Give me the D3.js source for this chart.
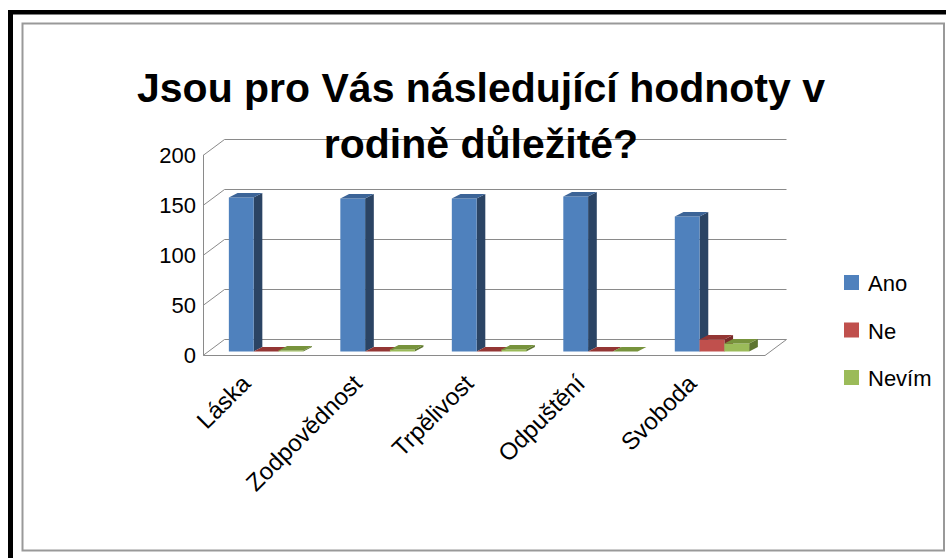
<!DOCTYPE html>
<html><head><meta charset="utf-8">
<script src="https://cdn.jsdelivr.net/npm/d3@7"></script>
<style>body{margin:0;background:#fff}svg{display:block}</style>
</head><body>
<script>
const categories = ["Láska", "Zodpovědnost", "Trpělivost", "Odpuštění", "Svoboda"];
const seriesNames = ["Ano", "Ne", "Nevím"];
const ano = [154, 153, 153, 155, 135];
const ne = [0, 0, 0, 0, 12];
const nevim = [1, 2, 2, 0, 8];
const yTicks = [0, 50, 100, 150, 200];
const titleLines = ["Jsou pro Vás následující hodnoty v", "rodině důležité?"];

const seriesValues = [ano, ne, nevim];
const colors = [
  {front: "#4f81bd", top: "#3c6497", side: "#2b4464"},
  {front: "#c0504d", top: "#943634", side: "#772b29"},
  {front: "#9bbb59", top: "#77933c", side: "#5e7530"}
];

const W = 946, H = 558;
const svg = d3.select("body").append("svg").attr("width", W).attr("height", H);
const font = "'Liberation Sans', Arial, sans-serif";

// frames
svg.append("rect").attr("x", 8).attr("y", 10).attr("width", W - 8).attr("height", 4.5).attr("fill", "#000");
svg.append("rect").attr("x", 8).attr("y", 10).attr("width", 5).attr("height", H - 10).attr("fill", "#000");
svg.append("rect").attr("x", 22.5).attr("y", 23.5).attr("width", 921.5).attr("height", 527).attr("fill", "none").attr("stroke", "#999").attr("stroke-width", 2);

// 3D geometry
const DX = 21.5, DY = -15.6;
const x0 = 203, x1 = 765;
const yFront = d3.scaleLinear().domain([0, 200]).range([355, 155]);
const yBack = v => yFront(v) + DY;
const yBar = d3.scaleLinear().domain([0, 200]).range([351.5, 151.5]);
const xBand = d3.scaleBand().domain(categories).range([x0, x1]).paddingInner(0.333).paddingOuter(0.187);
const xSub = d3.scaleBand().domain(seriesNames).range([0, xBand.bandwidth()]);
const barOff = 5, bdx = 8.7, bdy = -4.4;

const grid = svg.append("g").attr("stroke", "#8a8a8a").attr("stroke-width", 1).attr("fill", "none");
yTicks.forEach(t => {
  const yf = Math.round(yFront(t)) + 0.5, yb = Math.round(yBack(t)) + 0.5;
  grid.append("path").attr("d", `M${x0},${yf}L${x0 + DX},${yb}L${x1 + DX},${yb}`);
});
grid.append("path").attr("d", `M${x0 + 0.5},${yFront(200)}V${yFront(0) + 0.5}H${x1}L${x1 + DX},${Math.round(yBack(0)) + 0.5}`);

// y axis labels
const axis = d3.axisLeft(yFront).tickValues(yTicks).tickSize(0).tickPadding(7);
const ag = svg.append("g").attr("transform", `translate(${x0},0)`).call(axis);
ag.select(".domain").remove();
ag.selectAll("text").attr("font-family", font).attr("font-size", 22).attr("fill", "#000");

// bars
const bars = svg.append("g");
categories.forEach((c, i) => {
  seriesNames.forEach((s, j) => {
    const v = seriesValues[j][i];
    const x = xBand(c) + xSub(s) + barOff, w = xSub.bandwidth();
    const yt = yBar(v), yb = yBar(0);
    const col = colors[j];
    bars.append("path").attr("fill", col.side)
      .attr("d", `M${x + w},${yt}L${x + w + bdx},${yt + bdy}L${x + w + bdx},${yb + bdy}L${x + w},${yb}Z`);
    bars.append("rect").attr("fill", col.front).attr("x", x).attr("y", yt).attr("width", w).attr("height", yb - yt);
    bars.append("path").attr("fill", col.top)
      .attr("d", `M${x},${yt}L${x + w},${yt}L${x + w + bdx},${yt + bdy}L${x + bdx},${yt + bdy}Z`);
  });
});

// category labels
svg.append("g").selectAll("text").data(categories).join("text")
  .attr("transform", d => `translate(${xBand(d) + xBand.bandwidth() / 2 - 9},385) rotate(-45)`)
  .attr("text-anchor", "end")
  .attr("font-family", font).attr("font-size", 24).attr("fill", "#000")
  .text(d => d);

// title
svg.append("g").selectAll("text").data(titleLines).join("text")
  .attr("x", 481).attr("y", (d, i) => 102 + i * 56)
  .attr("text-anchor", "middle")
  .attr("font-family", font).attr("font-weight", "bold").attr("font-size", 41).attr("fill", "#000")
  .text(d => d);

// legend
const lg = svg.append("g").selectAll("g").data(seriesNames).join("g")
  .attr("transform", (d, i) => `translate(844,${275 + i * 47.5})`);
lg.append("rect").attr("width", 15).attr("height", 15).attr("fill", (d, i) => colors[i].front);
lg.append("text").attr("x", 24).attr("y", 16).attr("font-family", font).attr("font-size", 22).attr("fill", "#000").text(d => d);
</script>
</body></html>
